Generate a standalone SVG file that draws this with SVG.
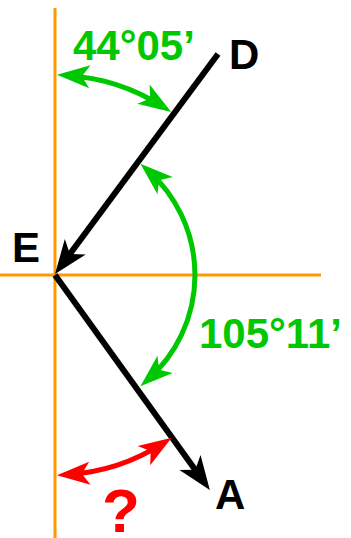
<svg xmlns="http://www.w3.org/2000/svg" width="351" height="538" viewBox="0 0 351 538">
<style>
.ax{stroke:#FF9900;stroke-width:3;fill:none}
.vec{stroke:#000;stroke-width:6;fill:none}
.ga{stroke:#00C800;stroke-width:5;fill:none}
.ra{stroke:#FF0000;stroke-width:5;fill:none}
text{font-family:"Liberation Sans",Arial,sans-serif;font-weight:bold;font-size:42px}
.g{fill:#00C800}.k{fill:#000}.r{fill:#FF0000}
</style>
<defs>
<marker id="ak" markerUnits="userSpaceOnUse" viewBox="-26 -15 38 30" markerWidth="38" markerHeight="30" refX="0" refY="0" orient="auto-start-reverse">
<path d="M10,0 L-24,-13 L-15,0 L-24,13 Z" fill="#000"/>
</marker>
<marker id="ag" markerUnits="userSpaceOnUse" viewBox="-26 -13 38 26" markerWidth="38" markerHeight="26" refX="0" refY="0" orient="auto-start-reverse">
<path d="M10,0 L-23,-11.5 L-15,0 L-23,11.5 Z" fill="#00C800"/>
</marker>
<marker id="ar" markerUnits="userSpaceOnUse" viewBox="-26 -13 38 26" markerWidth="38" markerHeight="26" refX="0" refY="0" orient="auto-start-reverse">
<path d="M10,0 L-23,-11.5 L-15,0 L-23,11.5 Z" fill="#FF0000"/>
</marker>
</defs>
<g id="axes">
<line class="ax" x1="55" y1="8" x2="55" y2="538"/>
<line class="ax" x1="0" y1="275" x2="321" y2="275"/>
</g>
<g id="connectors">
<path class="vec" d="M218,54 L61,266" marker-end="url(#ak)"/>
<path class="vec" d="M55,275 L204,482" marker-end="url(#ak)"/>
<path class="ga" d="M66.9,75.4 A200,200 0 0 1 162.8,106.5" marker-start="url(#ag)" marker-end="url(#ag)"/>
<path class="ga" d="M147.9,170.3 A140,140 0 0 1 147.9,379.7" marker-start="url(#ag)" marker-end="url(#ag)"/>
<path class="ra" d="M66.9,474.6 A200,200 0 0 0 163.3,443.1" marker-start="url(#ar)" marker-end="url(#ar)"/>
</g>
<g id="D"><text class="k" x="229" y="69">D</text></g>
<g id="E"><text class="k" x="12" y="262">E</text></g>
<g id="A"><text class="k" x="215" y="509">A</text></g>
<g id="angle1"><text class="g" x="73" y="60">44°05’</text></g>
<g id="angle2"><text class="g" x="199" y="348">105°11’</text></g>
<g id="unknown"><text class="r" x="102" y="532" style="font-size:62px">?</text></g>
</svg>
